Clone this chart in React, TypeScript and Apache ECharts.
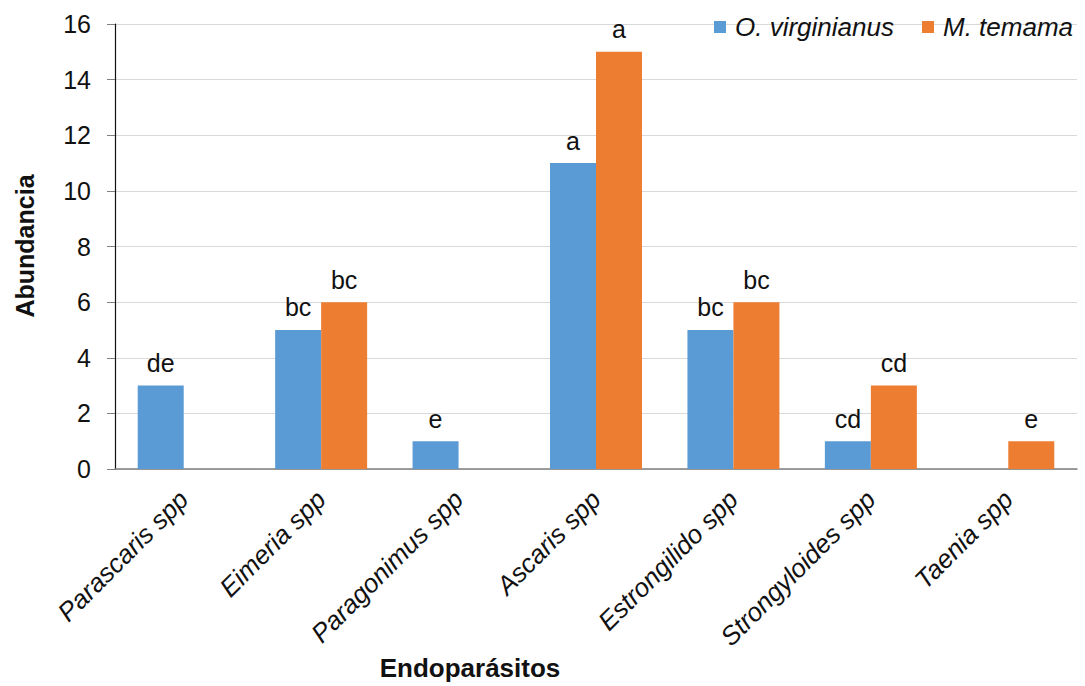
import React, { useEffect, useRef } from "react";
import * as echarts from "echarts";

const categories = [
  "Parascaris spp",
  "Eimeria spp",
  "Paragonimus spp",
  "Ascaris spp",
  "Estrongilido spp",
  "Strongyloides spp",
  "Taenia spp",
];
const seriesNames = ["O. virginianus", "M. temama"];
const virginianusValues: (number | null)[] = [3, 5, 1, 11, 5, 1, null];
const temamaValues: (number | null)[] = [null, 6, null, 15, 6, 3, 1];
const virginianusLetters = ["de", "bc", "e", "a", "bc", "cd", ""];
const temamaLetters = ["", "bc", "", "a", "bc", "cd", "e"];
const yTicks = { min: 0, max: 16, interval: 2 };
const xTitle = "Endoparásitos";
const yTitle = "Abundancia";

const FONT = "'Liberation Sans', Arial, sans-serif";

function buildData(values: (number | null)[], letters: string[]) {
  return values.map((v, i) =>
    v === null
      ? { value: "-" as any }
      : { value: v, label: { formatter: letters[i] } }
  );
}

export default function App() {
  const ref = useRef<HTMLDivElement>(null);
  useEffect(() => {
    document.body.style.margin = "0";
    if (!ref.current) return;
    const chart = echarts.init(ref.current, null, { renderer: "svg" });
    const labelCfg = {
      show: true,
      position: "top",
      distance: 10,
      color: "#111",
      fontSize: 25,
      fontFamily: FONT,
    };
    chart.setOption({
      animation: false,
      backgroundColor: "#fff",
      textStyle: { fontFamily: FONT },
      grid: { left: 115, right: 8, top: 24, bottom: 217, containLabel: false },
      legend: {
        right: 7,
        top: 9,
        itemWidth: 12,
        itemHeight: 12,
        itemGap: 28,
        icon: "rect",
        textStyle: {
          fontSize: 26,
          fontStyle: "italic",
          color: "#111",
          fontFamily: FONT,
          padding: [0, 0, 0, 4],
        },
        data: seriesNames,
      },
      xAxis: {
        type: "category",
        data: categories,
        axisLine: { lineStyle: { color: "#7f7f7f", width: 1.5 } },
        axisTick: { show: false },
        axisLabel: {
          interval: 0,
          rotate: 45,
          margin: 26,
          fontSize: 26,
          fontStyle: "italic",
          color: "#111",
          fontFamily: FONT,
        },
      },
      yAxis: {
        type: "value",
        min: yTicks.min,
        max: yTicks.max,
        interval: yTicks.interval,
        axisLine: { show: true, lineStyle: { color: "#111", width: 1.2 } },
        axisTick: { show: true, length: 8, lineStyle: { color: "#7f7f7f" } },
        axisLabel: {
          fontSize: 25,
          color: "#111",
          margin: 24,
          fontFamily: FONT,
        },
        splitLine: { lineStyle: { color: "#d9d9d9", width: 1.2 } },
      },
      graphic: [
        {
          type: "text",
          x: 470,
          y: 668,
          style: {
            text: xTitle,
            font: `bold 26px ${FONT}`,
            fill: "#111",
            align: "center",
            verticalAlign: "middle",
          },
        },
        {
          type: "text",
          x: 25,
          y: 246,
          rotation: Math.PI / 2,
          style: {
            text: yTitle,
            font: `bold 25px ${FONT}`,
            fill: "#111",
            align: "center",
            verticalAlign: "middle",
          },
        },
      ],
      series: [
        {
          name: seriesNames[0],
          type: "bar",
          barWidth: 46,
          barGap: "0%",
          itemStyle: { color: "#5b9bd5" },
          label: labelCfg,
          data: buildData(virginianusValues, virginianusLetters),
        },
        {
          name: seriesNames[1],
          type: "bar",
          barWidth: 46,
          barGap: "0%",
          itemStyle: { color: "#ed7d31" },
          label: labelCfg,
          data: buildData(temamaValues, temamaLetters),
        },
      ],
    });
    return () => chart.dispose();
  }, []);
  return <div ref={ref} style={{ width: 1085, height: 686 }} />;
}
